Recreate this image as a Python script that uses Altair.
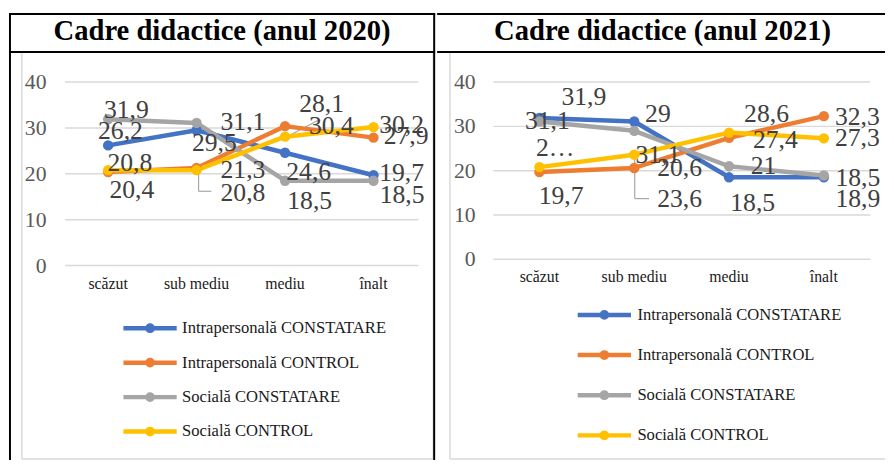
import altair as alt
import pandas as pd

categories = ["scăzut", "sub mediu", "mediu", "înalt"]
series = ["Intrapersonală CONSTATARE", "Intrapersonală CONTROL",
          "Socială CONSTATARE", "Socială CONTROL"]
colors = ["#4472C4", "#ED7D31", "#A5A5A5", "#FFC000"]
y_ticks = [0, 10, 20, 30, 40]
titles = ["Cadre didactice (anul 2020)", "Cadre didactice (anul 2021)"]

# 2020
intra_const_2020 = [26.2, 29.5, 24.6, 19.7]
intra_control_2020 = [20.4, 21.3, 30.4, 27.9]
social_const_2020 = [31.9, 31.1, 18.5, 18.5]
social_control_2020 = [20.8, 20.8, 28.1, 30.2]

# 2021
intra_const_2021 = [31.9, 31.1, 18.5, 18.5]
intra_control_2021 = [19.7, 20.6, 27.4, 32.3]
social_const_2021 = [31.1, 29.0, 21.0, 18.9]
social_control_2021 = [20.8, 23.6, 28.6, 27.3]

# data-label placement (px offset of label centre / baseline from its point)
label_dx_2020 = [[12.5, 18, 24, 28.5], [24, 47, 47, 33], [18.5, 47, 25, 29], [22, 47, 37, 28.5]]
label_dy_2020 = [[-6, 21, 28, 6], [26, 10, 8, 6], [-1, 7, 29, 23], [1, 31, -25, 6]]
label_dx_2021 = [[45, 24, 24, 34.5], [22, 46, 47, 34], [8, 24, 35, 34.5], [16, 46, 38, 34]]
label_dy_2021 = [[-13, 42, 34, 8.6], [32, 8, 10, 8.5], [8, -9, 8, 32], [-11, 53, -11, 8]]
# label text shown truncated in the original
label_override_2021 = {(3, 0): "2…"}

FONT = "Liberation Serif"
H = 455
LEGEND_PATH = "M-3,0L3,0M0.3,0A0.3,0.3,0,1,1,-0.3,0A0.3,0.3,0,1,1,0.3,0"


def fmt(v):
    return f"{v:g}".replace(".", ",")


def panel(values, dxs, dys, overrides, title, g):
    rows = []
    for si, s in enumerate(series):
        for ci, c in enumerate(categories):
            v = values[si][ci]
            rows.append(dict(series=s, cat=c, ci=ci, value=v,
                             label=overrides.get((si, ci), fmt(v)),
                             dx=dxs[si][ci], dy=dys[si][ci]))
    df = pd.DataFrame(rows)
    W = g["W"]
    xs = alt.Scale(type="point", domain=categories, range=[g["x0"], g["x1"]], padding=0)
    ys = alt.Scale(domain=[0, 40], range=[g["y0"], g["y40"]], nice=False, zero=False)
    k = (g["y0"] - g["y40"]) / 40.0
    one = pd.DataFrame({"k": [0]})

    # frames
    box_color = "#d9d9d9"
    frame = []
    frame.append(alt.Chart(one).mark_rule(color=box_color, strokeWidth=1.5).encode(
        x=alt.value(13), y=alt.value(42), y2=alt.value(g["box_bottom"])))
    frame.append(alt.Chart(one).mark_rule(color=box_color, strokeWidth=1.5).encode(
        x=alt.value(13), x2=alt.value(g["box_right"]), y=alt.value(g["box_bottom"])))
    if g["box_right"] < W:
        frame.append(alt.Chart(one).mark_rule(color=box_color, strokeWidth=1.5).encode(
            x=alt.value(g["box_right"]), y=alt.value(42), y2=alt.value(g["box_bottom"])))
    # table lines
    frame.append(alt.Chart(one).mark_rule(color="black", strokeWidth=2).encode(
        x=alt.value(0), x2=alt.value(W), y=alt.value(3)))
    frame.append(alt.Chart(one).mark_rule(color="black", strokeWidth=2).encode(
        x=alt.value(0), x2=alt.value(W), y=alt.value(41.5)))
    for vx in g["vlines"]:
        frame.append(alt.Chart(one).mark_rule(color="black", strokeWidth=2).encode(
            x=alt.value(vx), y=alt.value(2), y2=alt.value(H)))

    title_t = alt.Chart(pd.DataFrame({"t": [title]})).mark_text(
        font=FONT, fontSize=29, fontWeight="bold", color="black",
        align="center", baseline="alphabetic").encode(
        text="t:N", x=alt.value(g["title_x"]), y=alt.value(29))

    ticks = pd.DataFrame({"value": y_ticks, "tl": [str(t) for t in y_ticks]})
    grid = alt.Chart(ticks).mark_rule(color="#d9d9d9", strokeWidth=1.5).encode(
        y=alt.Y("value:Q", scale=ys, axis=None),
        x=alt.value(57), x2=alt.value(g["grid_right"]))
    tick_labels = alt.Chart(ticks).mark_text(
        font=FONT, fontSize=22, color="#595959", align="right", baseline="middle").encode(
        y=alt.Y("value:Q", scale=ys, axis=None), x=alt.value(g["tick_x"]), text="tl:N")

    cats = pd.DataFrame({"cat": categories})
    cat_labels = alt.Chart(cats).mark_text(
        font=FONT, fontSize=16, color="#1a1a1a", align="center", baseline="alphabetic").encode(
        x=alt.X("cat:N", scale=xs, axis=None), y=alt.value(g["cat_y"]), text="cat:N")

    # leader lines of moved data labels
    leaders = []
    for (si, ci, ox, oy, ox2, oy2) in g["leaders"]:
        sub = df[(df.series == series[si]) & (df.cat == categories[ci])]
        leaders.append(alt.Chart(sub).mark_rule(
            color="#a6a6a6", strokeWidth=1.2,
            xOffset=ox, yOffset=oy, x2Offset=ox2, y2Offset=oy2).encode(
            x=alt.X("cat:N", scale=xs, axis=None), x2="cat:N",
            y=alt.Y("value:Q", scale=ys, axis=None), y2="value:Q"))

    lines = alt.Chart(df).mark_line(
        strokeWidth=4.5, strokeCap="round", strokeJoin="round",
        point=alt.OverlayMarkDef(filled=True, size=110, opacity=1)).encode(
        x=alt.X("cat:N", scale=xs, axis=None),
        y=alt.Y("value:Q", scale=ys, axis=None),
        order=alt.Order("ci:Q"),
        color=alt.Color("series:N", scale=alt.Scale(domain=series, range=colors),
                        legend=alt.Legend(
                            orient="none", legendX=g["leg_x"], legendY=g["leg_y"],
                            title=None, direction="vertical", padding=0,
                            symbolType=LEGEND_PATH, symbolSize=324,
                            symbolStrokeWidth=4.5, symbolOpacity=1,
                            labelFont=FONT, labelFontSize=g["leg_fs"], labelColor="#1a1a1a",
                            labelOffset=g["leg_off"], rowPadding=g["leg_pad"],
                            labelLimit=400)))

    data_labels = alt.Chart(df).transform_calculate(
        lv=f"datum.value - datum.dy / {k}").mark_text(
        font=FONT, fontSize=26, color="#404040", align="center", baseline="alphabetic").encode(
        x=alt.X("cat:N", scale=xs, axis=None),
        y=alt.Y("lv:Q", scale=ys, axis=None),
        xOffset=alt.XOffset("dx:Q", scale=None),
        text="label:N")

    return alt.layer(*frame, title_t, grid, tick_labels, cat_labels, *leaders, lines,
                     data_labels).properties(width=W, height=H)


g2020 = dict(W=432, x0=100.5, x1=369.5, y0=258, y40=72, grid_right=415, tick_x=38,
             cat_y=282, leg_x=131.5, leg_y=310, leg_off=21, leg_pad=9.9, leg_fs=16.8,
             box_right=430, box_bottom=454, vlines=[1, 431], title_x=216,
             leaders=[(3, 1, 2, 3, 2, 21.4), (3, 1, 2, 21.4, 15, 21.4), (3, 2, 2, 0, 34, -17)])
g2021 = dict(W=454, x0=103.7, x1=392, y0=251.5, y40=72, grid_right=439, tick_x=39,
             cat_y=275, leg_x=158, leg_y=296.5, leg_off=22, leg_pad=15.7, leg_fs=16.8,
             box_right=454, box_bottom=454, vlines=[], title_x=228.5,
             leaders=[(3, 1, 0.5, 3.5, 0.5, 44.5), (3, 1, 0.5, 44.5, 15, 44.5)])

left = panel([intra_const_2020, intra_control_2020, social_const_2020, social_control_2020],
             label_dx_2020, label_dy_2020, {}, titles[0], g2020)
right = panel([intra_const_2021, intra_control_2021, social_const_2021, social_control_2021],
              label_dx_2021, label_dy_2021, label_override_2021, titles[1], g2021)

chart = alt.hconcat(left, right, spacing=0).resolve_scale(
    x="independent", y="independent", color="independent").resolve_legend(
    color="independent").configure_view(stroke=None).properties(
    padding=0, background="white")

chart.save("out.html", embed_options={"renderer": "svg", "actions": False})
